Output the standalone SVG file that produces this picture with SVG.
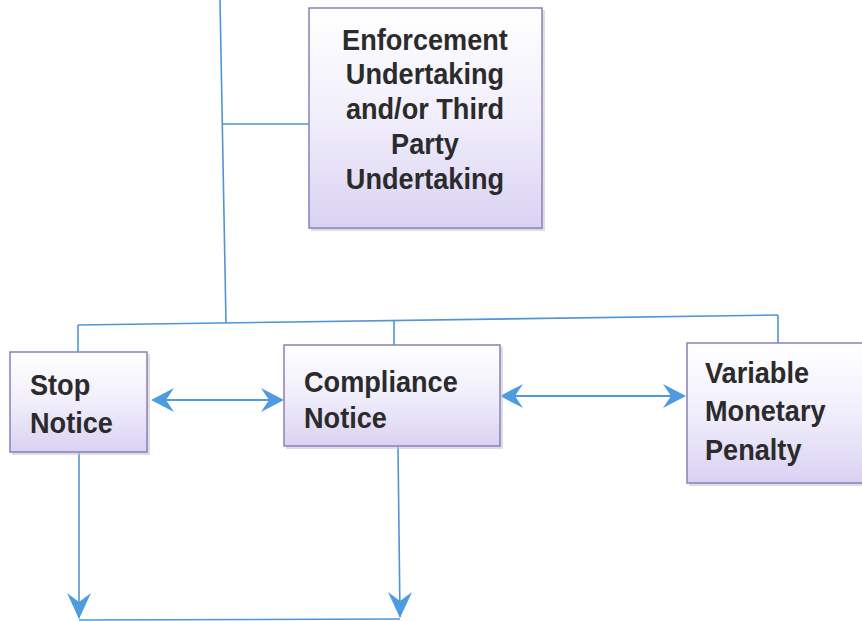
<svg xmlns="http://www.w3.org/2000/svg" width="862" height="621" viewBox="0 0 862 621">
<defs>
<linearGradient id="g" x1="0" y1="0" x2="0" y2="1">
<stop offset="0" stop-color="#ffffff"/>
<stop offset="0.5" stop-color="#f1eefb"/>
<stop offset="1" stop-color="#d9d2f3"/>
</linearGradient>
<marker id="ah" viewBox="0 0 24 24" refX="21" refY="12" markerWidth="24" markerHeight="24" markerUnits="userSpaceOnUse" orient="auto-start-reverse">
<path d="M0,0 L23,12 L0,24 L8,12 z" fill="#4f9be0"/>
</marker>
<marker id="ahd" viewBox="0 0 24 26" refX="12" refY="25" markerWidth="24" markerHeight="26" markerUnits="userSpaceOnUse" orient="0">
<path d="M0,0 L12,26 L24,0 L12,9 z" fill="#4f9be0"/>
</marker>
</defs>
<style>
.box{fill:url(#g);stroke:#8b80b5;stroke-width:1.5}
.sh{fill:#c8c4d4;opacity:0.6}
.t{font-family:"Liberation Sans",Arial,sans-serif;font-weight:bold;font-size:29.5px;fill:#2b2b2b}
.ln{fill:none;stroke:#4f95d6;stroke-width:1.6}
.ar{fill:none;stroke:#4f9be0;stroke-width:2.2}
</style>
<rect width="862" height="621" fill="#ffffff"/>
<g id="connectors">
<path class="ln" d="M220,0 L226,323"/>
<path class="ln" d="M223,124 L309,124"/>
<path class="ln" d="M78,325 L778,315"/>
<path class="ln" d="M78,325 L78,352"/>
<path class="ln" d="M394,321 L394,345"/>
<path class="ln" d="M778,315 L778,343"/>
<path class="ar" d="M153,400 L282,400" marker-start="url(#ah)" marker-end="url(#ah)"/>
<path class="ar" d="M502,396 L684,396" marker-start="url(#ah)" marker-end="url(#ah)"/>
<path class="ln" d="M79,452 L79,618" marker-end="url(#ahd)"/>
<path class="ln" d="M398,447 L400,617" marker-end="url(#ahd)"/>
<path class="ln" d="M79,620 L400,619"/>
</g>
<g id="enforcement">
<rect class="sh" x="311" y="10" width="234" height="221"/>
<rect class="box" x="309" y="8" width="233" height="220"/>
<text class="t" text-anchor="middle" transform="translate(425,50) scale(0.92,1)">Enforcement</text>
<text class="t" text-anchor="middle" transform="translate(425,84) scale(0.92,1)">Undertaking</text>
<text class="t" text-anchor="middle" transform="translate(425,119) scale(0.92,1)">and/or Third</text>
<text class="t" text-anchor="middle" transform="translate(425,154) scale(0.92,1)">Party</text>
<text class="t" text-anchor="middle" transform="translate(425,189) scale(0.92,1)">Undertaking</text>
</g>
<g id="stop">
<rect class="sh" x="12" y="354" width="138" height="101"/>
<rect class="box" x="10" y="352" width="137" height="100"/>
<text class="t" transform="translate(30,395) scale(0.92,1)">Stop</text>
<text class="t" transform="translate(30,433) scale(0.92,1)">Notice</text>
</g>
<g id="compliance">
<rect class="sh" x="286" y="347" width="217" height="102"/>
<rect class="box" x="284" y="345" width="216" height="101"/>
<text class="t" transform="translate(304,392) scale(0.92,1)">Compliance</text>
<text class="t" transform="translate(304,428) scale(0.92,1)">Notice</text>
</g>
<g id="vmp">
<rect class="sh" x="689" y="345" width="180" height="141"/>
<rect class="box" x="687" y="343" width="180" height="140"/>
<text class="t" transform="translate(705,383) scale(0.92,1)">Variable</text>
<text class="t" transform="translate(705,421) scale(0.92,1)">Monetary</text>
<text class="t" transform="translate(705,460) scale(0.92,1)">Penalty</text>
</g>
</svg>
